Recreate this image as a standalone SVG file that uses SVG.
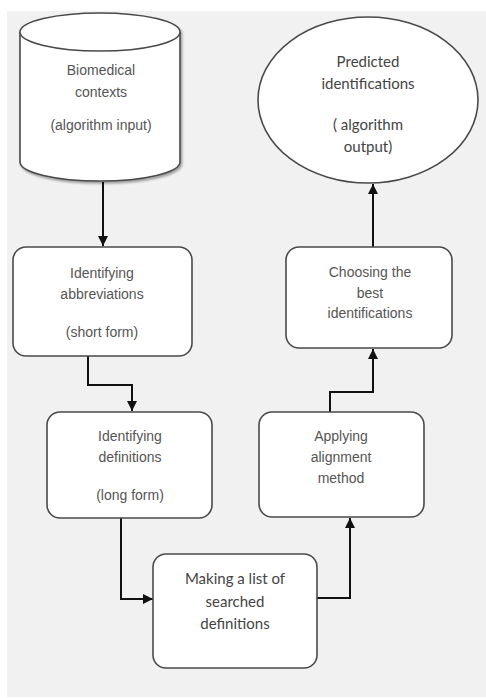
<svg xmlns="http://www.w3.org/2000/svg" width="486" height="698" viewBox="0 0 486 698">
<defs>
<style>
.bg{fill:#f1f1f1}
.node{fill:#ffffff;stroke:#4a4a4a;stroke-width:1.6}
.t1{font-family:"Liberation Sans",Arial,sans-serif;font-size:14px;fill:#555555;text-anchor:middle}
.t2{font-family:Lato,"Open Sans",sans-serif;font-size:15px;fill:#444444;text-anchor:middle}
.conn{fill:none;stroke:#111111;stroke-width:2}
</style>
<marker id="ah" viewBox="0 0 10 10" refX="10" refY="5" markerWidth="10" markerHeight="10" markerUnits="userSpaceOnUse" orient="auto">
<path d="M0,0 L10,5 L0,10 Z" fill="#111111"/>
</marker>
<filter id="sh" x="-10%" y="-10%" width="130%" height="130%">
<feDropShadow dx="1.5" dy="2" stdDeviation="1" flood-color="#000" flood-opacity="0.35"/>
</filter>
</defs>
<rect class="bg" x="7" y="11" width="479" height="686"/>

<g id="connectors">
<path class="conn" d="M103,182 V246" marker-end="url(#ah)"/>
<path class="conn" d="M88,356 V385 H132 V411" marker-end="url(#ah)"/>
<path class="conn" d="M121,518 V599 H153" marker-end="url(#ah)"/>
<path class="conn" d="M317,598 H350 V518" marker-end="url(#ah)"/>
<path class="conn" d="M330,412 V392 H373 V349" marker-end="url(#ah)"/>
<path class="conn" d="M373,247 V184" marker-end="url(#ah)"/>
</g>

<g id="input">
<path class="node" filter="url(#sh)" d="M20,32 A80,19 0 0 1 180,32 V162 A80,19 0 0 1 20,162 Z"/>
<path class="node" d="M20,32 A80,19 0 0 0 180,32"/>
<text class="t1" x="101" y="75">Biomedical</text>
<text class="t1" x="101" y="97">contexts</text>
<text class="t1" x="101" y="130">(algorithm input)</text>
</g>

<g id="abbrev">
<rect class="node" x="13" y="247" width="179" height="109" rx="13"/>
<text class="t1" x="102" y="278">Identifying</text>
<text class="t1" x="102" y="299">abbreviations</text>
<text class="t1" x="102" y="337">(short form)</text>
</g>

<g id="defs">
<rect class="node" x="47" y="412" width="165" height="106" rx="13"/>
<text class="t1" x="130" y="441">Identifying</text>
<text class="t1" x="130" y="462">definitions</text>
<text class="t1" x="130" y="500">(long form)</text>
</g>

<g id="list">
<rect class="node" x="153" y="554" width="164" height="114" rx="13"/>
<text class="t2" x="235" y="584">Making a list of</text>
<text class="t2" x="235" y="607">searched</text>
<text class="t2" x="235" y="629">definitions</text>
</g>

<g id="align">
<rect class="node" x="259" y="412" width="165" height="105" rx="13"/>
<text class="t1" x="341" y="441">Applying</text>
<text class="t1" x="341" y="462">alignment</text>
<text class="t1" x="341" y="483">method</text>
</g>

<g id="choose">
<rect class="node" x="286" y="247" width="166" height="101" rx="13"/>
<text class="t1" x="370" y="277">Choosing the</text>
<text class="t1" x="370" y="298">best</text>
<text class="t1" x="370" y="318">identifications</text>
</g>

<g id="output">
<ellipse class="node" cx="368" cy="100" rx="110" ry="83"/>
<text class="t2" x="368" y="67">Predicted</text>
<text class="t2" x="368" y="89">identifications</text>
<text class="t2" x="368" y="130">( algorithm</text>
<text class="t2" x="368" y="152">output)</text>
</g>
</svg>
